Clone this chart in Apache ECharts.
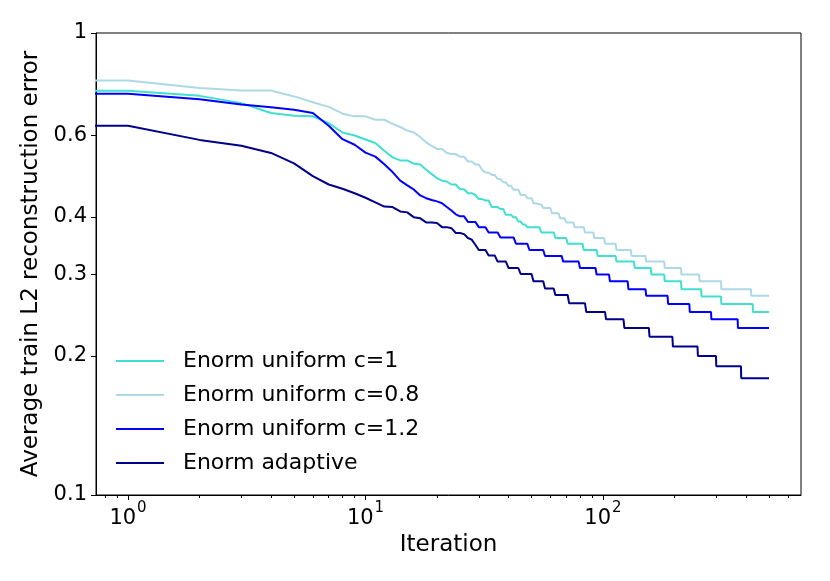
<!DOCTYPE html>
<html>
<head>
<meta charset="utf-8">
<script src="https://cdn.jsdelivr.net/npm/echarts@6/dist/echarts.min.js"></script>
<style>
html,body{margin:0;padding:0;background:#fff;}
#chart{width:830px;height:581px;}
</style>
</head>
<body>
<div id="chart"></div>
<script>
// ---- data (iteration, average train L2 reconstruction error) ----
// each knot: value holds from this iteration until the next knot's iteration
const LAST_ITER = 500;
const seriesNames = ['Enorm uniform c=1', 'Enorm uniform c=0.8', 'Enorm uniform c=1.2', 'Enorm adaptive'];
const seriesColors = ['#40E0D0', '#ADD8E6', '#0000FF', '#00008B'];

const uniformC1 = [[0,0.750],[1,0.750],[2,0.731],[3,0.705],[4,0.671],[5,0.662],[6,0.660],[7,0.638],[8,0.609],[9,0.600],[10,0.588],[11,0.578],[12,0.556],[13,0.538],[14,0.530],[16,0.521],[17,0.519],[18,0.506],[19,0.495],[20,0.485],[21,0.479],[22,0.477],[23,0.470],[25,0.459],[27,0.450],[29,0.446],[30,0.437],[32,0.434],[34,0.420],[37,0.416],[39,0.404],[42,0.399],[44,0.391],[46,0.385],[48,0.380],[55,0.370],[63,0.360],[71,0.350],[83,0.339],[95,0.329],[114,0.320],[136,0.310],[160,0.300],[182,0.290],[214,0.279],[260,0.269],[315,0.259],[428,0.249]];

const uniformC08 = [[0,0.789],[1,0.789],[2,0.760],[3,0.751],[5,0.729],[6,0.708],[7,0.692],[8,0.669],[9,0.660],[11,0.649],[13,0.636],[14,0.626],[15,0.615],[16,0.609],[17,0.595],[18,0.580],[19,0.570],[20,0.561],[22,0.550],[23,0.547],[25,0.540],[27,0.527],[29,0.519],[31,0.505],[32,0.499],[34,0.493],[36,0.483],[38,0.475],[40,0.467],[42,0.458],[45,0.446],[48,0.439],[51,0.428],[53,0.425],[56,0.418],[61,0.407],[66,0.397],[70,0.389],[76,0.380],[84,0.370],[92,0.360],[102,0.350],[114,0.339],[132,0.329],[152,0.320],[182,0.310],[214,0.300],[255,0.290],[315,0.279],[421,0.270]];

const uniformC12 = [[0,0.739],[1,0.739],[2,0.719],[3,0.700],[4,0.691],[5,0.682],[6,0.671],[7,0.630],[8,0.589],[9,0.573],[10,0.551],[11,0.540],[12,0.520],[13,0.500],[14,0.479],[15,0.468],[16,0.458],[17,0.445],[18,0.439],[19,0.435],[20,0.432],[21,0.428],[22,0.420],[23,0.413],[24,0.405],[25,0.401],[27,0.390],[30,0.380],[33,0.370],[37,0.361],[43,0.350],[49,0.339],[57,0.329],[68,0.320],[80,0.310],[94,0.300],[107,0.290],[128,0.279],[152,0.270],[188,0.259],[232,0.249],[286,0.240],[370,0.230]];

const adaptive = [[0,0.630],[1,0.630],[2,0.587],[3,0.570],[4,0.550],[5,0.522],[6,0.490],[7,0.470],[8,0.460],[9,0.450],[10,0.440],[11,0.430],[12,0.421],[13,0.420],[14,0.411],[15,0.409],[16,0.399],[17,0.397],[18,0.389],[20,0.388],[21,0.380],[23,0.378],[24,0.369],[26,0.367],[27,0.360],[28,0.357],[29,0.348],[30,0.339],[33,0.330],[36,0.320],[40,0.310],[45,0.301],[51,0.290],[57,0.280],[63,0.271],[72,0.260],[85,0.249],[103,0.240],[123,0.230],[157,0.220],[197,0.2095],[251,0.200],[300,0.190],[382,0.179]];

const xMajorTicks = [1, 10, 100];
const xMinorTicks = [0.8, 0.9, 2, 3, 4, 5, 6, 7, 8, 9, 20, 30, 40, 50, 60, 70, 80, 90, 200, 300, 400, 500, 600];
const yTicks = [0.1, 0.2, 0.3, 0.4, 0.6, 1];
const X_MIN = 0.733, X_MAX = 682;
const Y_MIN = 0.1, Y_MAX = 1;

// ---- build per-iteration polyline (iteration 0 is clipped like a log plot) ----
function buildLine(knots) {
  const pts = [];
  for (let i = 0; i < knots.length; i++) {
    const it = knots[i][0], v = knots[i][1];
    pts.push([it === 0 ? 1e-3 : it, v]);
    const next = i + 1 < knots.length ? knots[i + 1][0] : LAST_ITER + 1;
    if (next - 1 > it) pts.push([next - 1, v]);
  }
  return pts;
}
const allData = [uniformC1, uniformC08, uniformC12, adaptive];

const FONT = 'DejaVu Sans';
const chart = echarts.init(document.getElementById('chart'), null, {renderer: 'canvas'});
const option = {
  animation: false,
  backgroundColor: '#fff',
  textStyle: {fontFamily: FONT, color: '#000'},
  grid: {left: 96, right: 29, top: 33, bottom: 86, show: true, borderColor: '#000', borderWidth: 1, backgroundColor: 'transparent'},
  legend: {
    orient: 'vertical', left: 116, top: 349, padding: 0,
    icon: 'rect', itemWidth: 48, itemHeight: 2, itemGap: 10,
    data: seriesNames,
    textStyle: {fontFamily: FONT, fontSize: 22, color: '#000', lineHeight: 24, padding: [0, 0, 0, 14]}
  },
  xAxis: [{
    type: 'log', logBase: 10, min: X_MIN, max: X_MAX, position: 'bottom',
    axisLine: {show: true, lineStyle: {color: '#000', width: 1}},
    axisTick: {show: true, customValues: xMajorTicks, length: 5, lineStyle: {color: '#000'}},
    axisLabel: {
      show: true, customValues: xMajorTicks, margin: 6, color: '#000', fontFamily: FONT,
      formatter: function (v) { return '{b|10}{s|' + Math.round(Math.log10(v)) + '}'; },
      rich: {
        b: {fontSize: 21, fontFamily: FONT, color: '#000', verticalAlign: 'bottom', lineHeight: 28},
        s: {fontSize: 15, fontFamily: FONT, color: '#000', verticalAlign: 'top', lineHeight: 28, padding: [0, 0, 10, 1]}
      }
    },
    splitLine: {show: false}, minorTick: {show: false},
    name: 'Iteration', nameLocation: 'middle', nameGap: 35,
    nameTextStyle: {fontFamily: FONT, fontSize: 23, color: '#000'}
  }, {
    type: 'log', logBase: 10, min: X_MIN, max: X_MAX, position: 'bottom', gridIndex: 0,
    axisLine: {show: false},
    axisTick: {show: true, customValues: xMinorTicks, length: 3, lineStyle: {color: '#000'}},
    axisLabel: {show: false},
    splitLine: {show: false}
  }],
  yAxis: {
    type: 'log', logBase: 10, min: Y_MIN, max: Y_MAX,
    axisLine: {show: true, lineStyle: {color: '#000', width: 1}},
    axisTick: {show: true, customValues: yTicks, length: 5, lineStyle: {color: '#000'}},
    axisLabel: {
      show: true, customValues: yTicks, margin: 9, color: '#000', fontFamily: FONT, fontSize: 21,
      formatter: function (v) { return String(parseFloat(Number(v).toPrecision(3))); }
    },
    splitLine: {show: false}, minorTick: {show: false},
    name: 'Average train L2 reconstruction error', nameLocation: 'middle', nameGap: 41,
    nameTextStyle: {fontFamily: FONT, fontSize: 23, color: '#000'}
  },
  series: allData.map(function (d, i) {
    return {
      name: seriesNames[i], type: 'line', xAxisIndex: 0, yAxisIndex: 0,
      data: buildLine(d), showSymbol: false, symbol: 'none', clip: true,
      color: seriesColors[i],
      lineStyle: {color: seriesColors[i], width: 2},
      emphasis: {disabled: true}
    };
  })
};
chart.setOption(option);
</script>
</body>
</html>
